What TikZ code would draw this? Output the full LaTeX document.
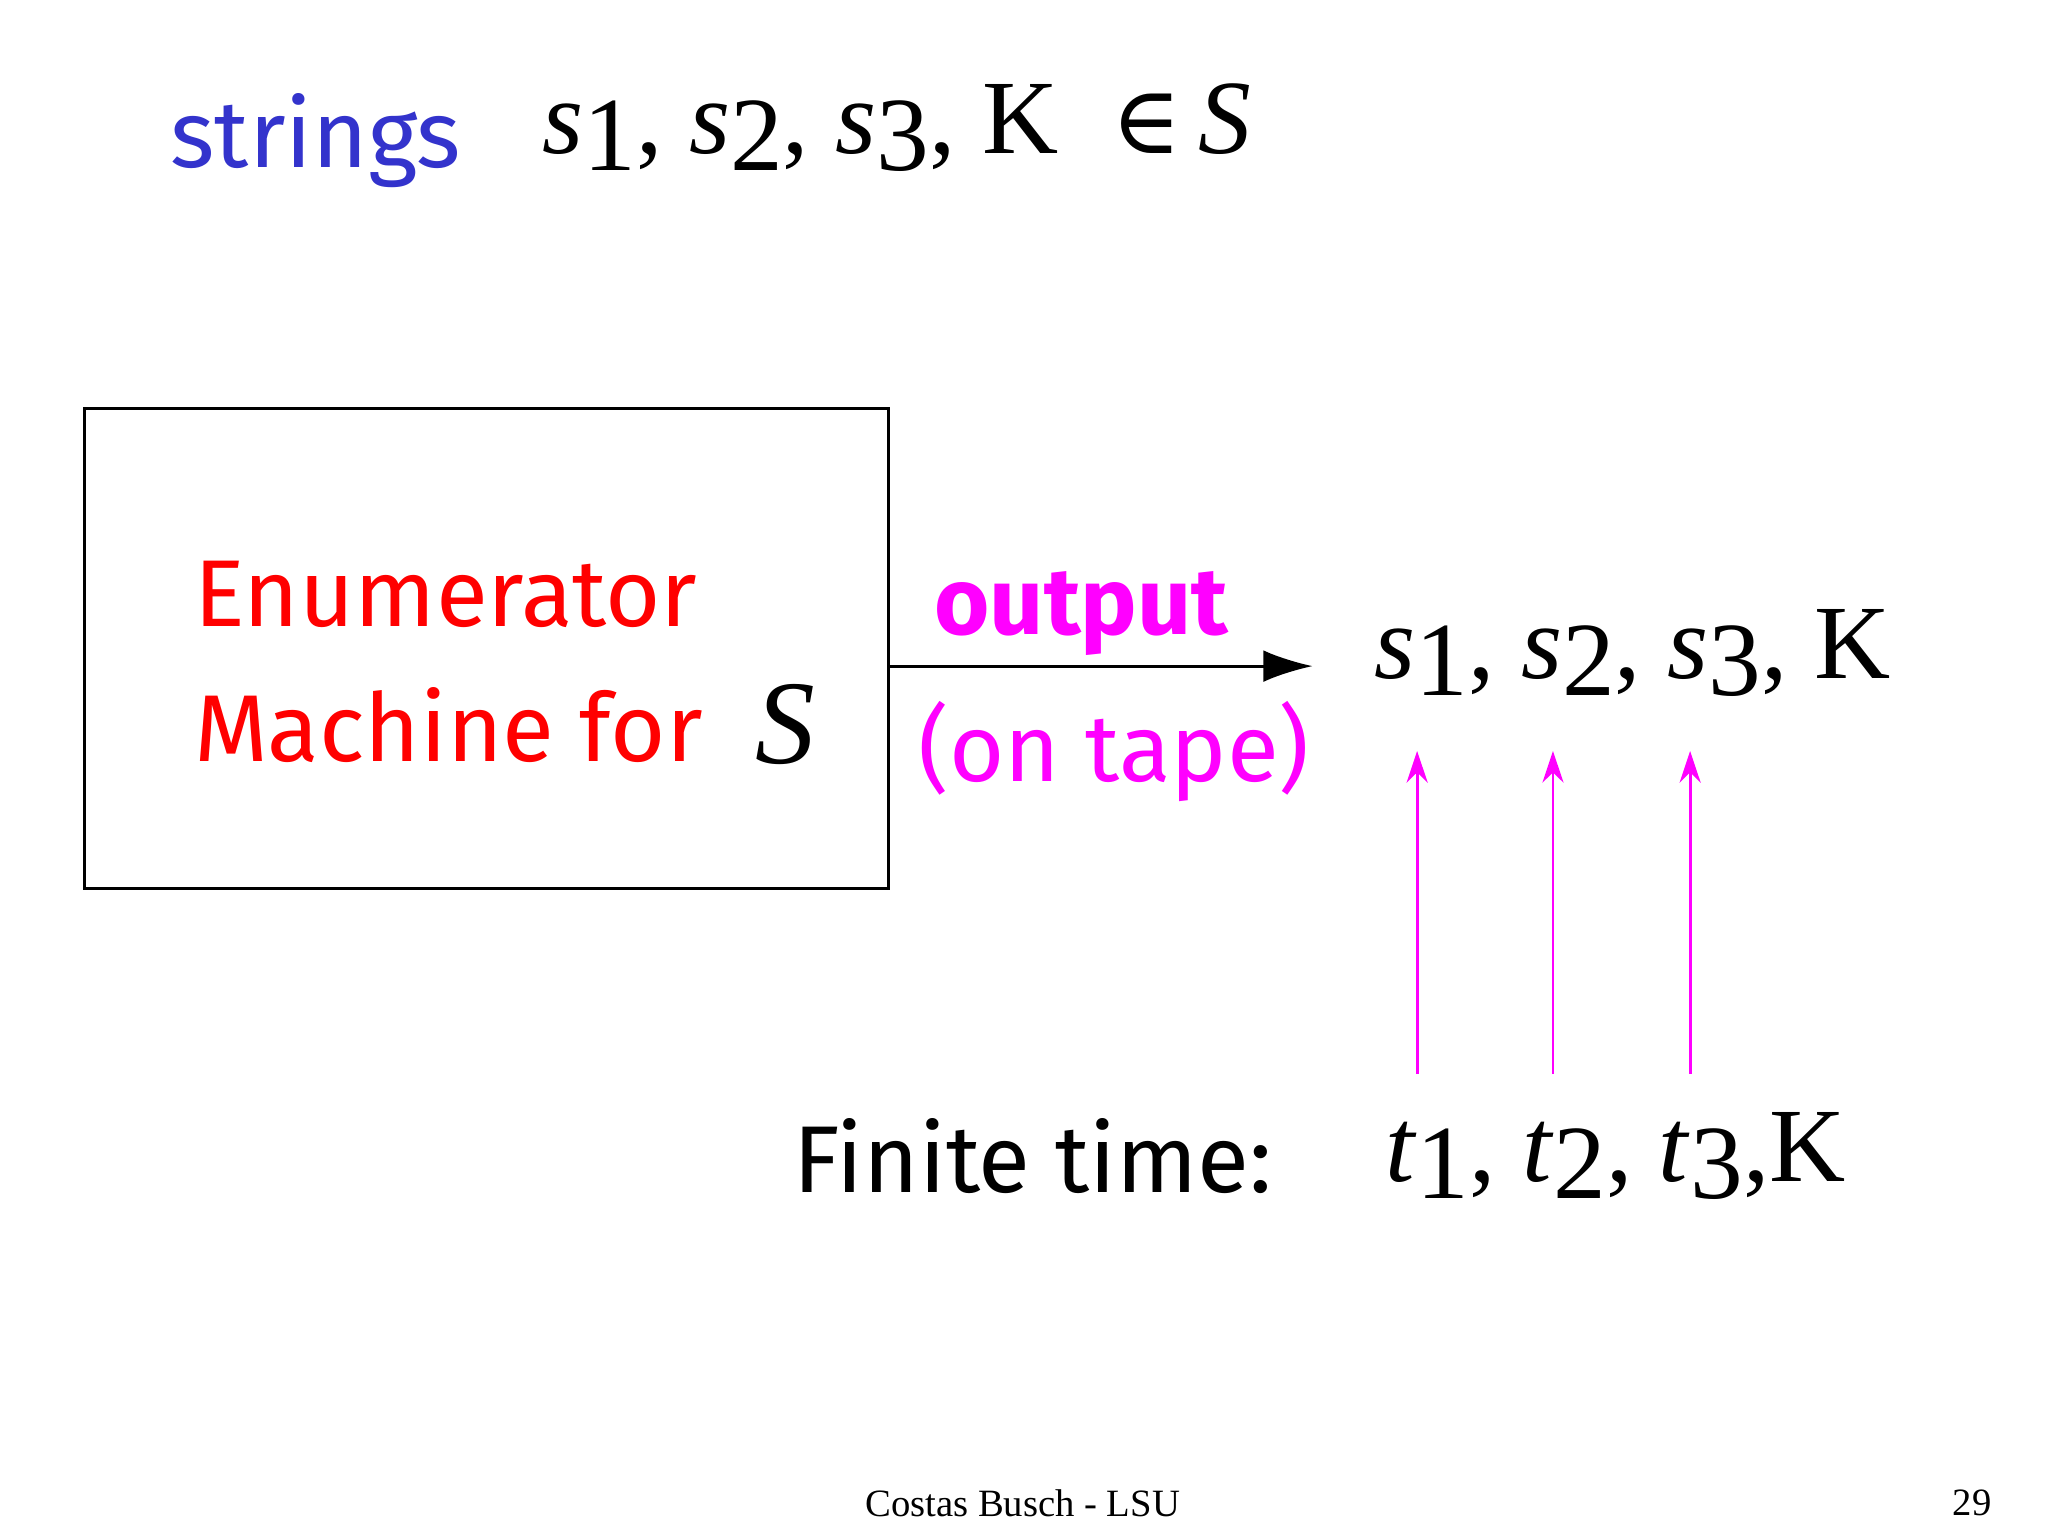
\documentclass[tikz,border=0pt]{standalone}
\usepackage{fontspec}
\setmainfont{Liberation Serif}
\newfontfamily\comic{Fira Sans}
\newfontfamily\dvs{DejaVu Serif}
\usetikzlibrary{arrows.meta}
\definecolor{sblue}{RGB}{51,51,204}
\definecolor{mag}{RGB}{255,0,255}
\newcommand{\vsub}[2]{\textit{#1}\raisebox{-0.35ex}{#2}}
\begin{document}
\begin{tikzpicture}[x=0.013061cm,y=-0.013061cm,
  ctext/.style={font=\comic\fontsize{27}{32}\selectfont, anchor=west, inner sep=0},
  mtext/.style={font=\fontsize{30}{36}\selectfont, anchor=west, inner sep=0},
  uparrow/.style={draw=mag, line width=0.8pt, -{Stealth[length=9pt,width=6pt]}}]
\useasboundingbox (0,0) rectangle (1568,1176);
\node[ctext, text=sblue] (str) at (130,108) {strings};
\node[mtext] (seq1) at (415,98) {\vsub{s}{1}, \vsub{s}{2}, \vsub{s}{3}, K\ \ {\dvs\fontsize{27}{32}\selectfont ∈}\,\textit{S}};
\node[draw, line width=0.8pt, minimum width=615*0.013061cm, minimum height=367*0.013061cm, inner sep=0] (box) at (372.5,496.5) {};
\node[ctext, text=red] (en) at (148,455) {Enumerator};
\node[ctext, text=red] (ma) at (148,555) {Machine for};
\node[mtext, font=\fontsize{34}{40}\selectfont] (ms) at (578,555) {\textit{S}};
\coordinate (aend) at (1005,510);
\draw[line width=0.8pt, -{Latex[length=14pt,width=9pt]}] (box.east |- aend) -- (aend);
\node[font=\comic\bfseries\fontsize{27}{32}\selectfont, text=mag, inner sep=0] (out) at (828,470) {output};
\node[font=\comic\fontsize{27}{32}\selectfont, text=mag, inner sep=0] (tape) at (853,575) {(on tape)};
\node[mtext] (seq2) at (1052,500) {\vsub{s}{1}, \vsub{s}{2}, \vsub{s}{3}, K};
\node[ctext] (fin) at (607,885) {Finite time:};
\node[mtext] (tseq) at (1060,885) {\vsub{t}{1}, \vsub{t}{2}, \vsub{t}{3},K};
\foreach \x/\n in {1085/a,1189/b,1294/c}{
  \coordinate (b\n) at (\x,822);
  \coordinate (t\n) at (\x,575);
  \draw[uparrow] (b\n) -- (t\n);
}
\node[font=\fontsize{11}{13}\selectfont, inner sep=0] (foot) at (783,1151) {Costas Busch - LSU};
\node[font=\fontsize{11}{13}\selectfont, inner sep=0] (pg) at (1510,1151) {29};
\end{tikzpicture}
\end{document}
